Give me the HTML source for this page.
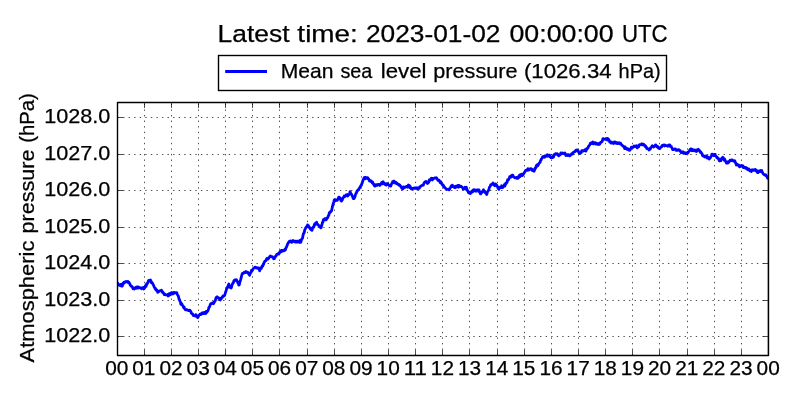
<!DOCTYPE html>
<html><head><meta charset="utf-8"><title>Mean sea level pressure</title>
<style>html,body{margin:0;padding:0;background:#fff;}body{width:800px;height:400px;overflow:hidden;}svg{display:block;will-change:transform;}text{font-family:"Liberation Sans",sans-serif;fill:#000;stroke:#000;stroke-width:0.25px;}</style></head><body>
<svg width="800" height="400" viewBox="0 0 800 400">
<rect x="0" y="0" width="800" height="400" fill="#ffffff"/>
<path d="M144.50 355.5V102.5M171.50 355.5V102.5M198.50 355.5V102.5M225.50 355.5V102.5M252.50 355.5V102.5M279.50 355.5V102.5M307.50 355.5V102.5M334.50 355.5V102.5M361.50 355.5V102.5M388.50 355.5V102.5M415.50 355.5V102.5M442.50 355.5V102.5M469.50 355.5V102.5M497.50 355.5V102.5M524.50 355.5V102.5M551.50 355.5V102.5M578.50 355.5V102.5M605.50 355.5V102.5M632.50 355.5V102.5M659.50 355.5V102.5M687.50 355.5V102.5M714.50 355.5V102.5M741.50 355.5V102.5M117.5 336.50H768.5M117.5 300.50H768.5M117.5 263.50H768.5M117.5 227.50H768.5M117.5 190.50H768.5M117.5 154.50H768.5M117.5 117.50H768.5" fill="none" stroke="#000" stroke-width="0.69" stroke-dasharray="1.39 4.17"/>
<path d="M767.9 102.5V355.5" stroke="#008000" stroke-width="1.4" opacity="0.35" fill="none"/>
<clipPath id="c"><rect x="117.5" y="102.5" width="651.0" height="253.0"/></clipPath>
<path clip-path="url(#c)" d="M117.10,283.50 117.55,282.88 118.00,283.97 118.46,284.33 118.91,284.33 119.36,285.43 119.81,285.06 120.27,285.43 120.72,284.33 121.17,285.43 121.62,286.16 122.08,286.16 122.53,285.43 122.98,283.24 123.43,283.61 123.89,282.51 124.34,282.88 124.79,281.78 125.24,281.78 125.69,281.78 126.15,281.42 126.60,281.78 127.05,281.78 127.50,281.78 127.96,281.42 128.41,282.88 128.86,282.14 129.31,283.24 129.77,283.61 130.22,285.06 130.67,285.43 131.12,286.16 131.58,286.16 132.03,286.52 132.48,287.25 132.93,288.71 133.38,288.35 133.84,288.35 134.29,289.08 134.74,287.99 135.19,287.99 135.65,288.35 136.10,287.25 136.55,287.62 137.00,286.89 137.46,287.99 137.91,286.89 138.36,287.99 138.81,287.25 139.27,287.62 139.72,287.62 140.17,287.99 140.62,287.99 141.08,287.99 141.53,288.71 141.98,288.35 142.43,287.62 142.88,287.62 143.34,287.99 143.79,289.08 144.24,287.25 144.69,287.99 145.15,286.16 145.60,285.43 146.05,286.52 146.50,283.97 146.96,284.33 147.41,283.24 147.86,282.51 148.31,281.05 148.77,280.32 149.22,280.32 149.67,280.32 150.12,281.05 150.57,279.95 151.03,282.51 151.48,281.78 151.93,282.88 152.38,282.88 152.84,283.97 153.29,284.70 153.74,285.80 154.19,286.89 154.65,287.62 155.10,288.71 155.55,288.35 156.00,290.18 156.46,289.81 156.91,289.81 157.36,291.27 157.81,292.37 158.26,291.63 158.72,291.63 159.17,291.27 159.62,290.90 160.07,290.90 160.53,290.54 160.98,290.54 161.43,290.18 161.88,290.90 162.34,292.37 162.79,292.00 163.24,292.73 163.69,293.46 164.15,294.56 164.60,293.82 165.05,294.56 165.50,294.92 165.95,294.92 166.41,294.92 166.86,294.92 167.31,295.28 167.76,294.56 168.22,296.01 168.67,294.56 169.12,293.82 169.57,294.19 170.03,294.92 170.48,293.09 170.93,293.46 171.38,292.73 171.84,294.19 172.29,292.73 172.74,293.09 173.19,293.82 173.65,292.37 174.10,292.37 174.55,293.09 175.00,292.73 175.45,292.73 175.91,292.73 176.36,293.09 176.81,292.73 177.26,294.19 177.72,295.28 178.17,295.65 178.62,297.11 179.07,299.30 179.53,299.67 179.98,301.49 180.43,301.86 180.88,304.41 181.34,304.05 181.79,303.68 182.24,305.14 182.69,305.50 183.14,306.24 183.60,307.69 184.05,306.96 184.50,308.43 184.95,309.15 185.41,309.88 185.86,309.88 186.31,309.88 186.76,309.52 187.22,309.88 187.67,310.25 188.12,310.25 188.57,310.62 189.03,310.62 189.48,310.25 189.93,310.25 190.38,311.34 190.83,311.34 191.29,313.17 191.74,313.53 192.19,313.90 192.64,313.90 193.10,315.00 193.55,315.72 194.00,315.72 194.45,315.72 194.91,315.72 195.36,316.09 195.81,314.63 196.26,315.00 196.72,315.72 197.17,316.09 197.62,317.55 198.07,317.19 198.52,316.09 198.98,315.36 199.43,315.00 199.88,314.26 200.33,314.63 200.79,314.63 201.24,314.26 201.69,313.17 202.14,312.81 202.60,312.81 203.05,313.53 203.50,312.81 203.95,313.53 204.41,312.44 204.86,312.44 205.31,312.81 205.76,313.53 206.22,311.34 206.67,312.44 207.12,311.71 207.57,311.34 208.02,310.62 208.48,309.15 208.93,307.33 209.38,306.96 209.83,306.24 210.29,304.41 210.74,303.68 211.19,303.68 211.64,303.68 212.10,302.95 212.55,302.95 213.00,303.31 213.45,303.68 213.91,302.95 214.36,301.86 214.81,301.49 215.26,300.76 215.71,298.94 216.17,297.47 216.62,297.11 217.07,296.75 217.52,297.47 217.98,297.47 218.43,298.20 218.88,297.84 219.33,298.20 219.79,299.67 220.24,300.03 220.69,298.57 221.14,298.94 221.60,297.84 222.05,297.11 222.50,297.11 222.95,296.01 223.40,296.38 223.86,296.01 224.31,295.65 224.76,294.92 225.21,293.46 225.67,292.00 226.12,290.54 226.57,289.08 227.02,288.35 227.48,286.89 227.93,286.89 228.38,285.06 228.83,283.97 229.29,286.16 229.74,287.25 230.19,286.89 230.64,287.25 231.09,287.99 231.55,287.25 232.00,285.06 232.45,284.33 232.90,282.88 233.36,282.88 233.81,281.05 234.26,280.32 234.71,279.95 235.17,280.69 235.62,279.95 236.07,279.59 236.52,279.95 236.98,280.69 237.43,281.42 237.88,283.24 238.33,283.24 238.79,285.06 239.24,285.06 239.69,282.88 240.14,281.42 240.59,279.95 241.05,278.13 241.50,276.31 241.95,274.48 242.40,273.38 242.86,273.75 243.31,273.38 243.76,273.02 244.21,272.29 244.67,272.65 245.12,272.65 245.57,272.29 246.02,271.56 246.48,271.93 246.93,272.29 247.38,272.65 247.83,272.29 248.28,273.38 248.74,274.12 249.19,274.48 249.64,275.21 250.09,273.75 250.55,272.65 251.00,272.65 251.45,270.46 251.90,270.10 252.36,270.46 252.81,269.37 253.26,268.64 253.71,268.27 254.17,267.91 254.62,267.55 255.07,267.18 255.52,267.18 255.97,267.91 256.43,267.55 256.88,267.55 257.33,268.27 257.78,268.27 258.24,267.91 258.69,267.91 259.14,268.27 259.59,270.83 260.05,269.37 260.50,269.00 260.95,267.91 261.40,268.27 261.86,266.45 262.31,265.72 262.76,266.08 263.21,264.62 263.66,264.26 264.12,262.44 264.57,261.70 265.02,260.97 265.47,260.97 265.93,260.61 266.38,259.51 266.83,258.42 267.28,259.15 267.74,258.42 268.19,259.15 268.64,257.69 269.09,257.69 269.55,256.96 270.00,256.23 270.45,255.86 270.90,256.59 271.36,256.59 271.81,256.59 272.26,256.59 272.71,257.32 273.16,257.69 273.62,258.78 274.07,258.06 274.52,258.42 274.97,257.32 275.43,256.23 275.88,256.23 276.33,255.50 276.78,254.41 277.24,254.04 277.69,254.04 278.14,253.67 278.59,254.04 279.05,253.67 279.50,252.94 279.95,251.48 280.40,251.12 280.85,251.85 281.31,250.39 281.76,251.48 282.21,251.12 282.66,250.39 283.12,250.75 283.57,250.75 284.02,250.75 284.47,250.03 284.93,249.29 285.38,250.03 285.83,248.20 286.28,247.47 286.74,246.38 287.19,245.28 287.64,243.82 288.09,243.45 288.54,242.36 289.00,242.00 289.45,241.26 289.90,241.26 290.35,241.63 290.81,240.90 291.26,241.26 291.71,242.36 292.16,241.26 292.62,241.63 293.07,240.53 293.52,240.90 293.97,240.90 294.43,241.63 294.88,242.00 295.33,241.26 295.78,241.26 296.24,242.00 296.69,241.26 297.14,241.26 297.59,242.00 298.04,241.26 298.50,241.26 298.95,240.90 299.40,242.36 299.85,240.53 300.31,242.36 300.76,242.36 301.21,240.90 301.66,239.07 302.12,238.71 302.57,237.98 303.02,235.42 303.47,233.60 303.93,233.23 304.38,231.78 304.83,229.59 305.28,228.85 305.73,227.76 306.19,227.03 306.64,226.66 307.09,226.30 307.54,224.84 308.00,225.57 308.45,225.57 308.90,227.39 309.35,227.03 309.81,227.76 310.26,228.85 310.71,228.12 311.16,229.95 311.62,228.49 312.07,230.31 312.52,228.12 312.97,227.39 313.42,226.66 313.88,227.03 314.33,224.84 314.78,223.75 315.23,224.47 315.69,224.11 316.14,223.01 316.59,222.28 317.04,223.75 317.50,224.47 317.95,224.47 318.40,225.20 318.85,225.57 319.31,225.94 319.76,226.66 320.21,227.03 320.66,227.76 321.11,227.76 321.57,225.94 322.02,224.47 322.47,222.28 322.92,222.28 323.38,219.73 323.83,219.73 324.28,219.36 324.73,218.63 325.19,219.73 325.64,219.00 326.09,219.73 326.54,219.36 327.00,217.91 327.45,217.91 327.90,217.17 328.35,215.72 328.81,215.35 329.26,212.79 329.71,212.43 330.16,212.43 330.61,211.34 331.07,211.34 331.52,210.97 331.97,208.78 332.42,206.95 332.88,204.76 333.33,203.31 333.78,201.84 334.23,200.02 334.69,201.12 335.14,199.66 335.59,200.75 336.04,200.02 336.50,200.38 336.95,200.38 337.40,200.38 337.85,198.92 338.30,198.19 338.76,197.10 339.21,198.19 339.66,198.56 340.11,197.83 340.57,199.66 341.02,200.75 341.47,201.12 341.92,200.38 342.38,199.66 342.83,198.19 343.28,197.47 343.73,197.10 344.19,196.00 344.64,196.73 345.09,196.00 345.54,196.00 345.99,194.91 346.45,195.64 346.90,195.64 347.35,194.54 347.80,196.00 348.26,195.28 348.71,194.54 349.16,194.54 349.61,193.81 350.07,191.62 350.52,192.72 350.97,193.81 351.42,194.18 351.88,195.28 352.33,196.00 352.78,197.10 353.23,198.56 353.68,198.56 354.14,198.56 354.59,197.47 355.04,196.37 355.49,194.54 355.95,193.45 356.40,193.09 356.85,191.26 357.30,191.26 357.76,190.16 358.21,189.80 358.66,189.80 359.11,188.34 359.57,187.97 360.02,187.25 360.47,186.51 360.92,185.42 361.38,185.42 361.83,183.59 362.28,182.87 362.73,181.04 363.18,179.58 363.64,179.22 364.09,177.75 364.54,177.39 364.99,178.85 365.45,177.39 365.90,177.75 366.35,177.75 366.80,177.75 367.26,178.48 367.71,177.75 368.16,178.85 368.61,178.85 369.07,179.58 369.52,181.04 369.97,181.04 370.42,181.04 370.87,180.67 371.33,181.77 371.78,181.41 372.23,182.87 372.68,182.13 373.14,183.96 373.59,183.96 374.04,185.42 374.49,185.78 374.95,186.15 375.40,185.78 375.85,184.69 376.30,185.06 376.76,184.69 377.21,185.42 377.66,184.69 378.11,184.32 378.56,184.32 379.02,184.32 379.47,184.69 379.92,185.42 380.37,184.32 380.83,183.96 381.28,183.23 381.73,182.50 382.18,183.96 382.64,182.50 383.09,181.77 383.54,182.50 383.99,183.23 384.45,183.96 384.90,183.59 385.35,184.69 385.80,184.69 386.25,185.06 386.71,183.59 387.16,184.32 387.61,183.59 388.06,184.69 388.52,184.69 388.97,185.06 389.42,185.78 389.87,185.42 390.33,185.42 390.78,186.15 391.23,184.69 391.68,183.59 392.14,183.23 392.59,181.77 393.04,182.13 393.49,181.41 393.94,181.04 394.40,182.87 394.85,181.77 395.30,182.50 395.75,183.23 396.21,182.50 396.66,183.59 397.11,183.23 397.56,184.32 398.02,184.32 398.47,184.32 398.92,184.32 399.37,185.42 399.83,185.06 400.28,185.78 400.73,186.51 401.18,186.88 401.64,187.97 402.09,187.97 402.54,189.07 402.99,188.70 403.44,186.88 403.90,187.97 404.35,187.61 404.80,187.61 405.25,186.88 405.71,186.88 406.16,186.51 406.61,186.51 407.06,186.88 407.52,187.25 407.97,185.78 408.42,185.06 408.87,185.78 409.33,185.42 409.78,187.61 410.23,186.51 410.68,187.61 411.13,188.70 411.59,188.70 412.04,189.07 412.49,188.34 412.94,188.34 413.40,188.34 413.85,187.97 414.30,188.34 414.75,187.97 415.21,188.34 415.66,188.34 416.11,187.61 416.56,188.34 417.02,187.97 417.47,189.07 417.92,187.97 418.37,187.97 418.82,187.97 419.28,188.34 419.73,186.88 420.18,186.51 420.63,186.51 421.09,185.78 421.54,185.78 421.99,185.42 422.44,185.42 422.90,185.06 423.35,185.06 423.80,183.59 424.25,182.87 424.71,182.13 425.16,181.77 425.61,182.13 426.06,181.41 426.51,181.77 426.97,182.50 427.42,183.59 427.87,182.13 428.32,182.87 428.78,182.13 429.23,179.94 429.68,180.67 430.13,180.31 430.59,179.22 431.04,178.48 431.49,178.12 431.94,179.58 432.40,179.94 432.85,178.48 433.30,178.85 433.75,178.48 434.21,178.12 434.66,178.12 435.11,177.75 435.56,178.12 436.01,178.12 436.47,177.75 436.92,178.48 437.37,179.22 437.82,180.31 438.28,180.31 438.73,180.67 439.18,180.31 439.63,181.41 440.09,182.50 440.54,181.41 440.99,183.23 441.44,183.23 441.90,184.32 442.35,184.69 442.80,185.42 443.25,185.06 443.70,186.15 444.16,187.25 444.61,187.25 445.06,187.61 445.51,188.34 445.97,188.70 446.42,189.07 446.87,189.44 447.32,189.44 447.78,189.44 448.23,189.07 448.68,189.44 449.13,189.80 449.59,189.07 450.04,188.34 450.49,187.61 450.94,186.51 451.39,185.78 451.85,186.51 452.30,185.06 452.75,186.51 453.20,186.15 453.66,186.15 454.11,187.25 454.56,187.61 455.01,187.61 455.47,187.61 455.92,186.15 456.37,186.88 456.82,186.88 457.28,186.51 457.73,185.42 458.18,185.42 458.63,187.25 459.08,185.42 459.54,186.15 459.99,186.51 460.44,186.51 460.89,186.15 461.35,186.51 461.80,186.88 462.25,187.61 462.70,187.61 463.16,189.07 463.61,188.70 464.06,188.34 464.51,188.34 464.97,187.25 465.42,189.07 465.87,188.34 466.32,187.25 466.78,188.70 467.23,190.53 467.68,190.53 468.13,191.62 468.58,192.72 469.04,191.99 469.49,192.35 469.94,192.72 470.39,193.45 470.85,192.72 471.30,192.35 471.75,191.26 472.20,191.99 472.66,191.99 473.11,190.16 473.56,189.80 474.01,190.89 474.47,189.80 474.92,190.89 475.37,190.89 475.82,191.26 476.27,190.16 476.73,189.80 477.18,189.80 477.63,189.80 478.08,189.80 478.54,191.26 478.99,189.80 479.44,191.99 479.89,192.35 480.35,193.81 480.80,193.81 481.25,193.09 481.70,192.72 482.16,191.62 482.61,191.26 483.06,190.89 483.51,189.80 483.96,191.26 484.42,191.26 484.87,192.35 485.32,192.35 485.77,193.09 486.23,193.45 486.68,194.54 487.13,193.09 487.58,191.62 488.04,190.89 488.49,190.53 488.94,189.44 489.39,187.25 489.85,186.88 490.30,186.15 490.75,184.69 491.20,184.69 491.65,184.32 492.11,184.32 492.56,183.59 493.01,182.87 493.46,183.96 493.92,185.06 494.37,185.06 494.82,185.78 495.27,185.06 495.73,183.96 496.18,185.42 496.63,185.06 497.08,185.78 497.54,186.88 497.99,188.34 498.44,187.61 498.89,189.44 499.35,187.61 499.80,187.25 500.25,187.61 500.70,187.25 501.15,187.61 501.61,185.78 502.06,186.51 502.51,187.61 502.96,187.25 503.42,186.51 503.87,186.51 504.32,184.69 504.77,186.15 505.23,185.06 505.68,183.23 506.13,183.59 506.58,182.87 507.04,182.50 507.49,179.94 507.94,179.58 508.39,179.94 508.84,178.85 509.30,178.12 509.75,176.66 510.20,177.39 510.65,176.29 511.11,177.03 511.56,175.56 512.01,175.20 512.46,175.20 512.92,175.20 513.37,176.66 513.82,177.03 514.27,177.39 514.73,177.75 515.18,177.75 515.63,177.75 516.08,177.75 516.53,177.39 516.99,178.48 517.44,178.48 517.89,177.03 518.34,178.12 518.80,177.39 519.25,175.93 519.70,174.84 520.15,176.66 520.61,175.20 521.06,174.47 521.51,174.10 521.96,175.56 522.42,175.56 522.87,174.47 523.32,174.47 523.77,173.38 524.23,173.01 524.68,171.91 525.13,171.55 525.58,170.45 526.03,170.45 526.49,170.45 526.94,170.45 527.39,169.36 527.84,168.63 528.30,169.72 528.75,170.09 529.20,169.00 529.65,169.36 530.11,169.36 530.56,168.63 531.01,168.63 531.46,169.00 531.92,169.72 532.37,170.45 532.82,169.72 533.27,170.82 533.72,170.09 534.18,171.19 534.63,169.72 535.08,168.26 535.53,168.26 535.99,166.81 536.44,165.34 536.89,166.44 537.34,164.62 537.80,165.71 538.25,164.98 538.70,163.88 539.15,163.16 539.61,162.79 540.06,162.42 540.51,160.60 540.96,160.23 541.41,158.78 541.87,158.41 542.32,157.68 542.77,156.59 543.22,156.95 543.68,156.95 544.13,156.22 544.58,157.31 545.03,155.85 545.49,155.85 545.94,155.85 546.39,155.49 546.84,156.22 547.30,154.76 547.75,155.49 548.20,155.12 548.65,156.22 549.10,156.22 549.56,155.12 550.01,156.95 550.46,156.95 550.91,157.68 551.37,157.68 551.82,157.31 552.27,157.68 552.72,157.31 553.18,156.22 553.63,156.95 554.08,154.76 554.53,154.76 554.99,154.40 555.44,153.66 555.89,154.03 556.34,153.66 556.79,154.40 557.25,153.66 557.70,154.76 558.15,154.40 558.60,155.85 559.06,155.49 559.51,155.12 559.96,154.76 560.41,154.76 560.87,152.94 561.32,153.66 561.77,153.30 562.22,153.30 562.68,152.94 563.13,153.66 563.58,153.66 564.03,153.66 564.49,153.66 564.94,152.94 565.39,154.40 565.84,155.49 566.29,155.12 566.75,154.76 567.20,155.49 567.65,154.76 568.10,154.76 568.56,154.76 569.01,155.49 569.46,155.85 569.91,155.12 570.37,155.49 570.82,154.76 571.27,154.40 571.72,153.66 572.18,154.03 572.63,154.03 573.08,152.57 573.53,152.20 573.98,151.84 574.44,151.84 574.89,151.84 575.34,150.75 575.79,150.38 576.25,150.01 576.70,150.75 577.15,150.38 577.60,150.01 578.06,150.75 578.51,151.47 578.96,152.94 579.41,152.94 579.87,153.30 580.32,153.30 580.77,152.57 581.22,152.57 581.67,150.75 582.13,150.75 582.58,150.75 583.03,151.11 583.48,150.75 583.94,150.75 584.39,150.38 584.84,149.65 585.29,150.75 585.75,151.11 586.20,150.75 586.65,148.56 587.10,148.92 587.56,148.19 588.01,147.82 588.46,146.37 588.91,146.00 589.37,145.27 589.82,144.91 590.27,143.44 590.72,143.08 591.17,142.72 591.63,143.44 592.08,142.72 592.53,143.44 592.98,141.98 593.44,143.81 593.89,143.08 594.34,143.08 594.79,142.72 595.25,142.72 595.70,144.17 596.15,143.08 596.60,144.17 597.06,143.81 597.51,144.17 597.96,144.54 598.41,143.44 598.86,144.17 599.32,143.44 599.77,144.17 600.22,142.72 600.67,142.72 601.13,141.98 601.58,141.98 602.03,141.62 602.48,140.53 602.94,138.70 603.39,138.70 603.84,139.06 604.29,139.06 604.75,139.06 605.20,139.43 605.65,139.06 606.10,139.06 606.55,139.43 607.01,138.34 607.46,140.16 607.91,138.70 608.36,139.06 608.82,139.79 609.27,140.53 609.72,141.98 610.17,141.62 610.63,141.62 611.08,143.08 611.53,141.98 611.98,143.08 612.44,142.35 612.89,143.08 613.34,142.72 613.79,143.44 614.24,141.98 614.70,142.72 615.15,141.98 615.60,143.08 616.05,142.35 616.51,142.72 616.96,143.44 617.41,142.72 617.86,143.44 618.32,143.08 618.77,143.44 619.22,142.72 619.67,143.81 620.13,143.08 620.58,143.08 621.03,144.17 621.48,144.54 621.94,145.27 622.39,145.63 622.84,145.63 623.29,146.37 623.74,146.73 624.20,147.09 624.65,148.56 625.10,146.73 625.55,148.19 626.01,148.19 626.46,148.19 626.91,149.28 627.36,149.28 627.82,148.92 628.27,148.92 628.72,150.01 629.17,149.65 629.63,150.38 630.08,150.01 630.53,148.92 630.98,148.19 631.43,147.09 631.89,147.09 632.34,147.09 632.79,147.46 633.24,147.09 633.70,147.09 634.15,146.00 634.60,146.37 635.05,146.37 635.51,146.37 635.96,146.73 636.41,145.63 636.86,147.46 637.32,147.82 637.77,146.37 638.22,146.73 638.67,146.73 639.12,145.27 639.58,144.54 640.03,144.54 640.48,144.54 640.93,144.54 641.39,144.17 641.84,143.81 642.29,144.91 642.74,144.54 643.20,144.91 643.65,144.17 644.10,145.27 644.55,145.27 645.01,145.27 645.46,146.73 645.91,146.37 646.36,147.09 646.81,148.56 647.27,148.56 647.72,148.92 648.17,148.92 648.62,148.92 649.08,150.01 649.53,149.65 649.98,148.56 650.43,148.92 650.89,147.46 651.34,147.09 651.79,146.37 652.24,145.63 652.70,146.00 653.15,146.37 653.60,147.09 654.05,146.37 654.50,146.37 654.96,145.63 655.41,144.91 655.86,144.91 656.31,146.37 656.77,146.00 657.22,147.09 657.67,146.37 658.12,147.46 658.58,148.19 659.03,148.19 659.48,148.56 659.93,148.56 660.39,147.82 660.84,147.09 661.29,146.73 661.74,146.73 662.20,145.27 662.65,145.27 663.10,145.63 663.55,144.91 664.00,145.63 664.46,146.00 664.91,144.91 665.36,145.27 665.81,145.63 666.27,145.63 666.72,145.63 667.17,145.63 667.62,146.37 668.08,145.63 668.53,145.27 668.98,144.91 669.43,146.00 669.89,144.91 670.34,146.37 670.79,146.73 671.24,146.37 671.69,147.46 672.15,148.19 672.60,149.65 673.05,149.28 673.50,149.65 673.96,149.28 674.41,149.28 674.86,148.92 675.31,148.92 675.77,149.28 676.22,150.38 676.67,150.38 677.12,150.01 677.58,150.38 678.03,149.65 678.48,149.65 678.93,150.01 679.38,150.01 679.84,150.75 680.29,150.75 680.74,152.20 681.19,152.57 681.65,151.84 682.10,152.20 682.55,152.20 683.00,151.84 683.46,153.30 683.91,152.57 684.36,152.94 684.81,152.57 685.27,152.94 685.72,153.66 686.17,153.66 686.62,152.94 687.08,152.57 687.53,152.94 687.98,152.94 688.43,151.84 688.88,151.47 689.34,150.75 689.79,150.01 690.24,149.28 690.69,150.38 691.15,148.92 691.60,150.75 692.05,149.28 692.50,150.01 692.96,149.65 693.41,150.75 693.86,150.38 694.31,150.01 694.77,150.38 695.22,151.11 695.67,151.11 696.12,150.01 696.57,151.47 697.03,150.01 697.48,149.65 697.93,149.65 698.38,149.28 698.84,150.38 699.29,150.38 699.74,150.75 700.19,152.20 700.65,151.84 701.10,152.57 701.55,153.30 702.00,153.66 702.46,155.49 702.91,155.85 703.36,155.49 703.81,156.22 704.26,156.59 704.72,156.95 705.17,156.59 705.62,156.22 706.07,155.85 706.53,155.85 706.98,158.04 707.43,158.04 707.88,157.68 708.34,157.31 708.79,158.41 709.24,159.14 709.69,158.41 710.15,158.04 710.60,157.31 711.05,156.59 711.50,155.49 711.95,154.03 712.41,154.03 712.86,155.12 713.31,155.49 713.76,154.76 714.22,154.40 714.67,155.49 715.12,154.40 715.57,155.85 716.03,156.59 716.48,156.59 716.93,157.68 717.38,157.31 717.84,158.41 718.29,158.41 718.74,158.78 719.19,160.60 719.64,160.97 720.10,160.23 720.55,160.23 721.00,160.60 721.45,158.78 721.91,158.04 722.36,158.04 722.81,157.31 723.26,157.68 723.72,158.41 724.17,160.23 724.62,159.14 725.07,160.23 725.53,161.33 725.98,161.69 726.43,163.16 726.88,162.79 727.34,163.16 727.79,163.16 728.24,161.69 728.69,162.42 729.14,161.69 729.60,160.97 730.05,160.23 730.50,160.60 730.95,160.23 731.41,159.87 731.86,160.60 732.31,159.87 732.76,160.60 733.22,160.97 733.67,160.97 734.12,161.33 734.57,160.60 735.03,161.33 735.48,162.79 735.93,163.52 736.38,164.98 736.83,164.25 737.29,164.25 737.74,164.62 738.19,165.34 738.64,165.71 739.10,165.34 739.55,166.81 740.00,166.07 740.45,166.44 740.91,166.07 741.36,165.34 741.81,165.71 742.26,165.71 742.72,165.71 743.17,167.53 743.62,166.81 744.07,167.53 744.52,167.17 744.98,167.90 745.43,168.26 745.88,167.53 746.33,168.26 746.79,167.90 747.24,169.36 747.69,168.63 748.14,169.72 748.60,169.36 749.05,169.00 749.50,170.45 749.95,170.82 750.41,170.09 750.86,170.82 751.31,171.55 751.76,170.82 752.22,169.72 752.67,170.09 753.12,170.45 753.57,170.45 754.02,169.72 754.48,170.09 754.93,169.72 755.38,169.36 755.83,170.82 756.29,170.09 756.74,170.82 757.19,172.28 757.64,171.91 758.10,172.64 758.55,171.91 759.00,170.82 759.45,170.82 759.91,171.55 760.36,171.55 760.81,170.45 761.26,170.82 761.71,170.45 762.17,171.91 762.62,172.64 763.07,173.74 763.52,174.10 763.98,174.47 764.43,174.84 764.88,175.20 765.33,175.20 765.79,174.84 766.24,175.93 766.69,175.93 767.14,177.03 767.60,178.12 768.05,178.48 768.50,178.86" fill="none" stroke="#0000ff" stroke-width="2.78" stroke-linejoin="round" stroke-linecap="butt"/>
<path d="M117.50 355.5v-5.56M117.50 102.5v5.56M144.50 355.5v-5.56M144.50 102.5v5.56M171.50 355.5v-5.56M171.50 102.5v5.56M198.50 355.5v-5.56M198.50 102.5v5.56M225.50 355.5v-5.56M225.50 102.5v5.56M252.50 355.5v-5.56M252.50 102.5v5.56M279.50 355.5v-5.56M279.50 102.5v5.56M307.50 355.5v-5.56M307.50 102.5v5.56M334.50 355.5v-5.56M334.50 102.5v5.56M361.50 355.5v-5.56M361.50 102.5v5.56M388.50 355.5v-5.56M388.50 102.5v5.56M415.50 355.5v-5.56M415.50 102.5v5.56M442.50 355.5v-5.56M442.50 102.5v5.56M469.50 355.5v-5.56M469.50 102.5v5.56M497.50 355.5v-5.56M497.50 102.5v5.56M524.50 355.5v-5.56M524.50 102.5v5.56M551.50 355.5v-5.56M551.50 102.5v5.56M578.50 355.5v-5.56M578.50 102.5v5.56M605.50 355.5v-5.56M605.50 102.5v5.56M632.50 355.5v-5.56M632.50 102.5v5.56M659.50 355.5v-5.56M659.50 102.5v5.56M687.50 355.5v-5.56M687.50 102.5v5.56M714.50 355.5v-5.56M714.50 102.5v5.56M741.50 355.5v-5.56M741.50 102.5v5.56M768.50 355.5v-5.56M768.50 102.5v5.56M117.5 336.50h5.56M768.5 336.50h-5.56M117.5 300.50h5.56M768.5 300.50h-5.56M117.5 263.50h5.56M768.5 263.50h-5.56M117.5 227.50h5.56M768.5 227.50h-5.56M117.5 190.50h5.56M768.5 190.50h-5.56M117.5 154.50h5.56M768.5 154.50h-5.56M117.5 117.50h5.56M768.5 117.50h-5.56" fill="none" stroke="#000" stroke-width="0.69"/>
<rect x="117.5" y="102.5" width="651.0" height="253.0" fill="none" stroke="#000" stroke-width="1.39" stroke-linejoin="round"/>
<rect x="218.5" y="55.5" width="448" height="35" fill="#fff" stroke="#000" stroke-width="1.39"/>
<path d="M225.2 71.5H267" stroke="#0000ff" stroke-width="2.78" fill="none"/>
<text x="217.64" y="42.0" font-size="23.7" textLength="71.9" lengthAdjust="spacingAndGlyphs">Latest</text>
<text x="297.38" y="42.0" font-size="23.7" textLength="60.47" lengthAdjust="spacingAndGlyphs">time:</text>
<text x="365.9" y="42.0" font-size="23.7" textLength="134.59" lengthAdjust="spacingAndGlyphs">2023-01-02</text>
<text x="509.44" y="42.0" font-size="23.7" textLength="104.17" lengthAdjust="spacingAndGlyphs">00:00:00</text>
<text x="621.93" y="42.0" font-size="23.7" textLength="45.65" lengthAdjust="spacingAndGlyphs">UTC</text>
<text x="280.81" y="77.8" font-size="19.8" textLength="52.7" lengthAdjust="spacingAndGlyphs">Mean</text>
<text x="340.46" y="77.8" font-size="19.8" textLength="31.89" lengthAdjust="spacingAndGlyphs">sea</text>
<text x="380.76" y="77.8" font-size="19.8" textLength="45.7" lengthAdjust="spacingAndGlyphs">level</text>
<text x="433.36" y="77.8" font-size="19.8" textLength="84.04" lengthAdjust="spacingAndGlyphs">pressure</text>
<text x="523.91" y="77.8" font-size="19.8" textLength="87.71" lengthAdjust="spacingAndGlyphs">(1026.34</text>
<text x="618.55" y="77.8" font-size="19.8" textLength="42.09" lengthAdjust="spacingAndGlyphs">hPa)</text>
<text x="44.18" y="342.10" font-size="19.8" textLength="66.05" lengthAdjust="spacingAndGlyphs">1022.0</text>
<text x="44.18" y="306.10" font-size="19.8" textLength="66.05" lengthAdjust="spacingAndGlyphs">1023.0</text>
<text x="44.18" y="269.10" font-size="19.8" textLength="66.05" lengthAdjust="spacingAndGlyphs">1024.0</text>
<text x="44.18" y="233.10" font-size="19.8" textLength="66.05" lengthAdjust="spacingAndGlyphs">1025.0</text>
<text x="44.18" y="196.10" font-size="19.8" textLength="66.05" lengthAdjust="spacingAndGlyphs">1026.0</text>
<text x="44.18" y="160.10" font-size="19.8" textLength="66.05" lengthAdjust="spacingAndGlyphs">1027.0</text>
<text x="44.18" y="123.10" font-size="19.8" textLength="66.05" lengthAdjust="spacingAndGlyphs">1028.0</text>
<text x="105.17" y="374.6" font-size="19.8" textLength="23.16" lengthAdjust="spacingAndGlyphs">00</text>
<text x="132.31" y="374.6" font-size="19.8" textLength="23.16" lengthAdjust="spacingAndGlyphs">01</text>
<text x="159.45" y="374.6" font-size="19.8" textLength="23.16" lengthAdjust="spacingAndGlyphs">02</text>
<text x="186.60" y="374.6" font-size="19.8" textLength="23.16" lengthAdjust="spacingAndGlyphs">03</text>
<text x="213.74" y="374.6" font-size="19.8" textLength="23.16" lengthAdjust="spacingAndGlyphs">04</text>
<text x="240.88" y="374.6" font-size="19.8" textLength="23.16" lengthAdjust="spacingAndGlyphs">05</text>
<text x="268.02" y="374.6" font-size="19.8" textLength="23.16" lengthAdjust="spacingAndGlyphs">06</text>
<text x="295.16" y="374.6" font-size="19.8" textLength="23.16" lengthAdjust="spacingAndGlyphs">07</text>
<text x="322.31" y="374.6" font-size="19.8" textLength="23.16" lengthAdjust="spacingAndGlyphs">08</text>
<text x="349.45" y="374.6" font-size="19.8" textLength="23.16" lengthAdjust="spacingAndGlyphs">09</text>
<text x="376.59" y="374.6" font-size="19.8" textLength="23.16" lengthAdjust="spacingAndGlyphs">10</text>
<text x="403.73" y="374.6" font-size="19.8" textLength="23.16" lengthAdjust="spacingAndGlyphs">11</text>
<text x="430.87" y="374.6" font-size="19.8" textLength="23.16" lengthAdjust="spacingAndGlyphs">12</text>
<text x="458.02" y="374.6" font-size="19.8" textLength="23.16" lengthAdjust="spacingAndGlyphs">13</text>
<text x="485.16" y="374.6" font-size="19.8" textLength="23.16" lengthAdjust="spacingAndGlyphs">14</text>
<text x="512.30" y="374.6" font-size="19.8" textLength="23.16" lengthAdjust="spacingAndGlyphs">15</text>
<text x="539.44" y="374.6" font-size="19.8" textLength="23.16" lengthAdjust="spacingAndGlyphs">16</text>
<text x="566.58" y="374.6" font-size="19.8" textLength="23.16" lengthAdjust="spacingAndGlyphs">17</text>
<text x="593.73" y="374.6" font-size="19.8" textLength="23.16" lengthAdjust="spacingAndGlyphs">18</text>
<text x="620.87" y="374.6" font-size="19.8" textLength="23.16" lengthAdjust="spacingAndGlyphs">19</text>
<text x="648.01" y="374.6" font-size="19.8" textLength="23.16" lengthAdjust="spacingAndGlyphs">20</text>
<text x="675.15" y="374.6" font-size="19.8" textLength="23.16" lengthAdjust="spacingAndGlyphs">21</text>
<text x="702.29" y="374.6" font-size="19.8" textLength="23.16" lengthAdjust="spacingAndGlyphs">22</text>
<text x="729.44" y="374.6" font-size="19.8" textLength="23.16" lengthAdjust="spacingAndGlyphs">23</text>
<text x="756.58" y="374.6" font-size="19.8" textLength="23.16" lengthAdjust="spacingAndGlyphs">00</text>
<g transform="translate(33.8 362.5) rotate(-90)">
<text x="0.0" y="0" font-size="19.8" textLength="121.88" lengthAdjust="spacingAndGlyphs">Atmospheric</text>
<text x="129.07" y="0" font-size="19.8" textLength="83.96" lengthAdjust="spacingAndGlyphs">pressure</text>
<text x="219.65" y="0" font-size="19.8" textLength="49.68" lengthAdjust="spacingAndGlyphs">(hPa)</text>
</g>
</svg></body></html>
